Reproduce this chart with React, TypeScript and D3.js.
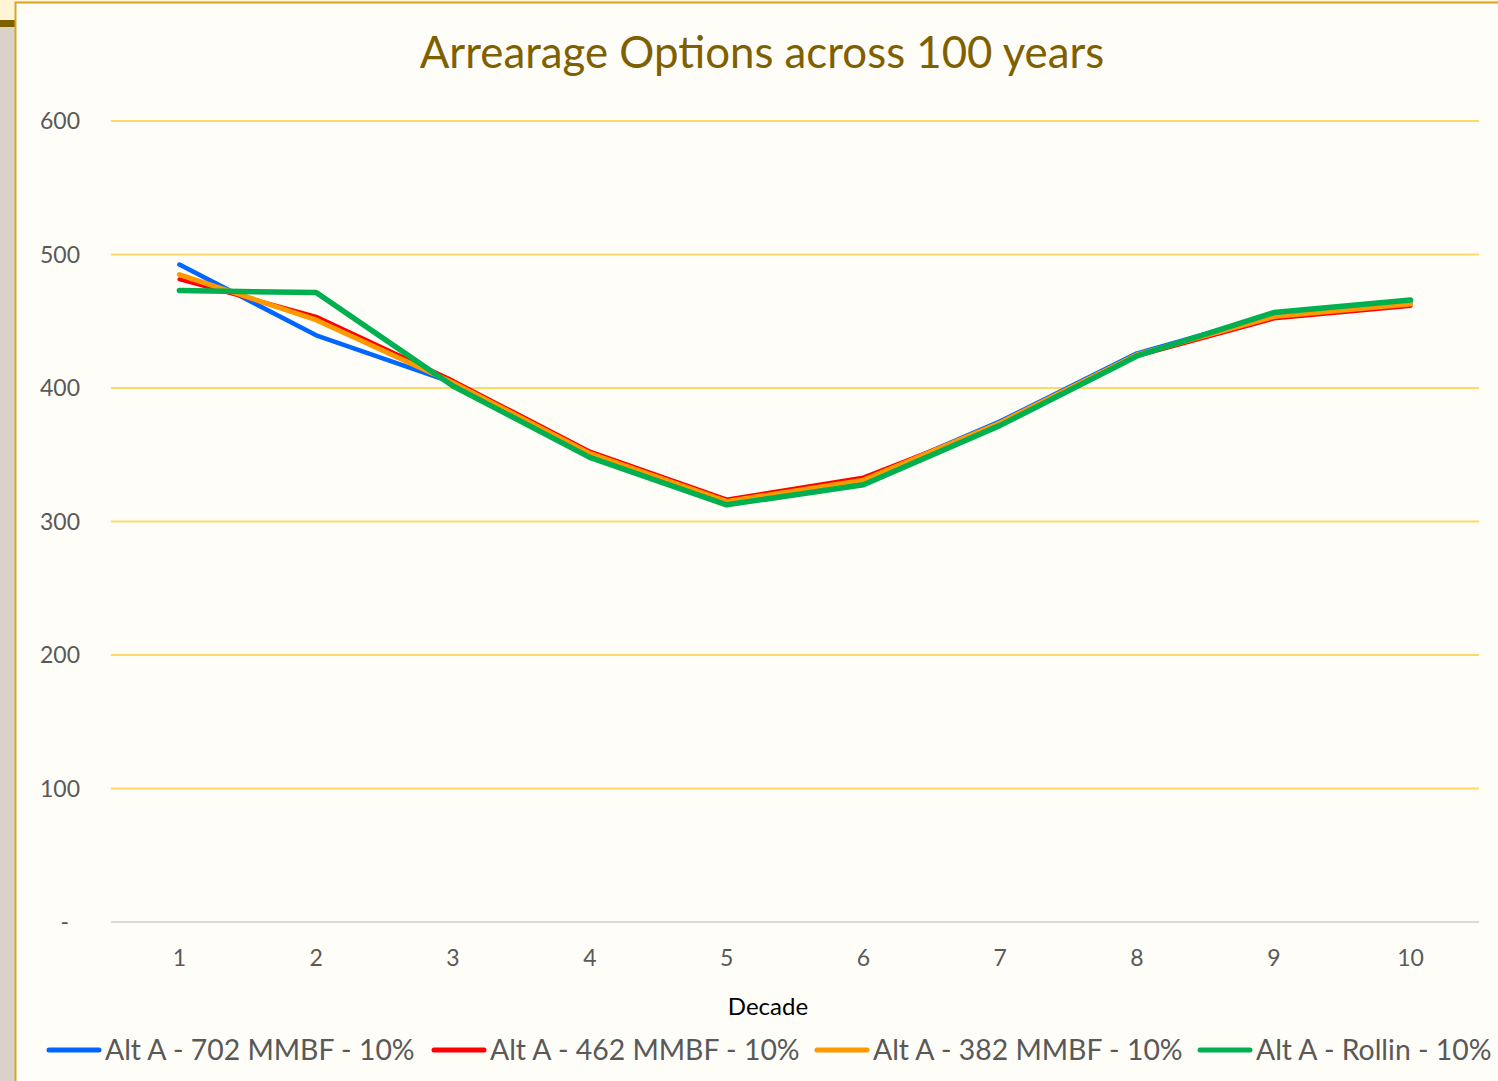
import React from 'react';
import * as d3 from 'd3';

// decades on the x axis
const decades = [1, 2, 3, 4, 5, 6, 7, 8, 9, 10];

// series values
const alt702 = [492.5, 439.5, 404, 352, 316, 331, 375, 426, 455, 464];
const alt462 = [481.5, 453.5, 405.5, 352.5, 316.5, 333, 373, 424, 452, 461.5];
const alt382 = [485, 451, 404, 351, 315, 331, 374, 425, 453.5, 463];
const altRollin = [473, 471.5, 401.5, 348, 312.5, 327.5, 372, 424, 456.5, 466];

const seriesNames = [
  'Alt A - 702 MMBF - 10%',
  'Alt A - 462 MMBF - 10%',
  'Alt A - 382 MMBF - 10%',
  'Alt A - Rollin - 10%',
];
const yTicks = [0, 100, 200, 300, 400, 500, 600];
const yTickLabels = ['-', '100', '200', '300', '400', '500', '600'];

const W = 1498;
const H = 1081;
const font = 'Lato, "Open Sans", sans-serif';

const App = () => {
  const marginLeft = 111;
  const marginRight = 19;
  const plotTop = 121;
  const plotBottom = 922;

  const x = d3.scaleBand<number>()
    .domain(decades)
    .range([marginLeft, W - marginRight]);

  const y = d3.scaleLinear()
    .domain([0, 600])
    .range([plotBottom, plotTop]);

  const cx = (d: number) => (x(d) as number) + x.bandwidth() / 2;

  const series = [
    { name: seriesNames[0], values: alt702, color: '#0066ff', width: 4.5 },
    { name: seriesNames[1], values: alt462, color: '#ff0000', width: 4 },
    { name: seriesNames[2], values: alt382, color: '#ff9900', width: 5 },
    { name: seriesNames[3], values: altRollin, color: '#00b050', width: 5.5 },
  ];

  const line = d3.line<number>()
    .x((_, i) => cx(decades[i]))
    .y(d => y(d));

  // legend entries: line start x
  const legendX = [47, 432, 815, 1198];

  return (
    <svg width={W} height={H} style={{ position: 'fixed', left: 0, top: 0, display: 'block' }}>
      {/* surrounding window bits */}
      <rect x={0} y={0} width={W} height={H} fill="#fff4d6" />
      <rect x={0} y={20} width={15} height={H - 20} fill="#d9d2c8" />
      <rect x={0} y={20} width={15} height={7} fill="#7f6000" />
      <rect x={15} y={2} width={W - 15} height={H - 2} fill="#fffdf7" />
      <line x1={15.5} y1={2} x2={15.5} y2={H} stroke="#d4a52a" strokeWidth={2} />
      <line x1={15} y1={2.5} x2={W} y2={2.5} stroke="#d4a52a" strokeWidth={2} />

      {/* title */}
      <text x={762} y={68} textAnchor="middle" fontFamily={font} fontSize={43.8} fill="#7f6000">
        Arrearage Options across 100 years
      </text>

      {/* gridlines */}
      {yTicks.filter(t => t > 0).map(t => (
        <line key={t} x1={marginLeft} x2={W - marginRight} y1={y(t)} y2={y(t)} stroke="#ffd966" strokeWidth={1.8} />
      ))}
      <line x1={marginLeft} x2={W - marginRight} y1={y(0)} y2={y(0)} stroke="#d9d9d9" strokeWidth={1.8} />

      {/* y tick labels */}
      {yTicks.map((t, i) => (
        <text key={t} x={t === 0 ? 69 : 80} y={y(t)} dy="0.35em" textAnchor="end"
          fontFamily={font} fontSize={23} fill="#595959">{yTickLabels[i]}</text>
      ))}

      {/* x tick labels */}
      {decades.map(d => (
        <text key={d} x={cx(d)} y={966} textAnchor="middle" fontFamily={font} fontSize={23} fill="#595959">{d}</text>
      ))}
      <text x={768} y={1015} textAnchor="middle" fontFamily={font} fontSize={24} fill="#000">Decade</text>

      {/* series lines */}
      {series.map(s => (
        <path key={s.name} d={line(s.values) as string} fill="none" stroke={s.color}
          strokeWidth={s.width} strokeLinecap="round" strokeLinejoin="round" />
      ))}

      {/* legend */}
      {series.map((s, i) => (
        <g key={s.name} transform={`translate(${legendX[i]},1050)`}>
          <line x1={2} x2={52} y1={0} y2={0} stroke={s.color} strokeWidth={5} strokeLinecap="round" />
          <text x={58} y={0} dy="0.35em" fontFamily={font} fontSize={28.4} fill="#595959">{s.name}</text>
        </g>
      ))}
    </svg>
  );
};

export default App;
